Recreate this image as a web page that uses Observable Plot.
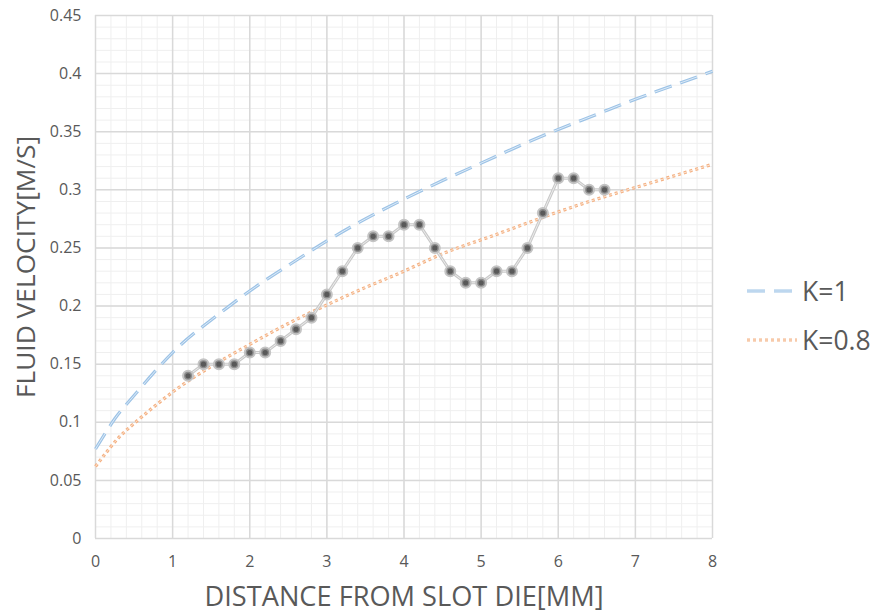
<!DOCTYPE html>
<html>
<head>
<meta charset="utf-8">
<script src="https://cdn.jsdelivr.net/npm/d3@7"></script>
<script src="https://cdn.jsdelivr.net/npm/@observablehq/plot@0.6"></script>
<style>
  html, body { margin: 0; padding: 0; background: #fff; }
  #wrap { position: relative; width: 877px; height: 616px; font-family: "Open Sans", sans-serif; }
  #legend { position: absolute; left: 745px; top: 266px; color: #595959; font-size: 26.5px; }
  .li { display: flex; align-items: center; height: 49px; }
  .li svg { margin-right: 3px; }
</style>
</head>
<body>
<div id="wrap"><div id="legend"></div></div>
<script>
// Measured series (gray markers)
const measX = [1.2,1.4,1.6,1.8,2.0,2.2,2.4,2.6,2.8,3.0,3.2,3.4,3.6,3.8,4.0,4.2,4.4,4.6,4.8,5.0,5.2,5.4,5.6,5.8,6.0,6.2,6.4,6.6];
const measY = [0.14,0.15,0.15,0.15,0.16,0.16,0.17,0.18,0.19,0.21,0.23,0.25,0.26,0.26,0.27,0.27,0.25,0.23,0.22,0.22,0.23,0.23,0.25,0.28,0.31,0.31,0.30,0.30];

// Model curve K=1
const k1X = [0,0.25,0.5,1,1.5,2,2.5,3,3.5,4,4.5,5,5.5,6,6.5,7,7.5,8];
const k1Y = [0.077,0.103,0.123,0.16,0.188,0.213,0.235,0.256,0.275,0.292,0.308,0.323,0.338,0.352,0.365,0.378,0.39,0.402];

// Model curve K=0.8
const k08X = [0,0.25,0.5,1,1.5,2,2.5,3,3.5,4,4.5,5,5.5,6,6.5,7,7.5,8];
const k08Y = [0.062,0.083,0.099,0.126,0.148,0.167,0.185,0.201,0.216,0.23,0.245,0.257,0.269,0.281,0.292,0.302,0.312,0.322];

const xTicks = [0,1,2,3,4,5,6,7,8];
const yTicks = [0,0.05,0.1,0.15,0.2,0.25,0.3,0.35,0.4,0.45];
const seriesNames = ["K=1", "K=0.8"];
const xLabel = "DISTANCE FROM SLOT DIE[MM]";
const yLabel = "FLUID VELOCITY[M/S]";

const meas = measX.map((x, i) => ({x, y: measY[i]}));
const k1 = k1X.map((x, i) => ({x, y: k1Y[i]}));
const k08 = k08X.map((x, i) => ({x, y: k08Y[i]}));

const minorX = d3.range(0, 8.001, 0.2).map(v => +v.toFixed(2));
const minorY = d3.range(0, 0.4501, 0.01).map(v => +v.toFixed(3));

const blue = "#9dc3e6", orange = "#f4b183";
const fmt = d => String(+(+d).toFixed(2));

const plot = Plot.plot({
  width: 877, height: 616,
  marginLeft: 95, marginRight: 165, marginTop: 15, marginBottom: 78,
  style: {fontFamily: "Open Sans, sans-serif", fontSize: "16px", color: "#595959", background: "#fff"},
  x: {domain: [0, 8], label: null},
  y: {domain: [0, 0.45], label: null},
  marks: [
    Plot.ruleX(minorX, {stroke: "#efefef", strokeWidth: 1, strokeOpacity: 1}),
    Plot.ruleY(minorY, {stroke: "#efefef", strokeWidth: 1, strokeOpacity: 1}),
    Plot.ruleX(xTicks, {stroke: "#d9d9d9", strokeWidth: 1.5, strokeOpacity: 1}),
    Plot.ruleY(yTicks, {stroke: "#d9d9d9", strokeWidth: 1.5, strokeOpacity: 1}),
    Plot.axisX({ticks: xTicks, tickFormat: fmt, tickSize: 0, tickPadding: 17, fontSize: 16, fill: "#595959", label: null}),
    Plot.axisY({ticks: yTicks, tickFormat: fmt, tickSize: 0, tickPadding: 14, fontSize: 16, fill: "#595959", label: null}),
    // K=1 compound dashed line
    Plot.line(k1, {x: "x", y: "y", curve: "natural", stroke: blue, strokeWidth: 3.2, strokeDasharray: "18,9", strokeLinecap: "butt"}),
    Plot.line(k1, {x: "x", y: "y", curve: "natural", stroke: "#eef5fc", strokeWidth: 0.8, strokeDasharray: "18,9", strokeLinecap: "butt"}),
    // K=0.8 compound dotted line
    Plot.line(k08, {x: "x", y: "y", curve: "natural", stroke: orange, strokeWidth: 3.2, strokeDasharray: "3,3", strokeLinecap: "butt"}),
    Plot.line(k08, {x: "x", y: "y", curve: "natural", stroke: "#fdf0e6", strokeWidth: 0.8, strokeDasharray: "3,3", strokeLinecap: "butt"}),
    // measured series
    Plot.line(meas, {x: "x", y: "y", stroke: "#c9c9c9", strokeWidth: 3}),
    Plot.line(meas, {x: "x", y: "y", stroke: "#ececec", strokeWidth: 1}),
    Plot.dot(meas, {x: "x", y: "y", r: 5, fill: "#8c8c8c", stroke: "#c4c4c4", strokeWidth: 2}),
    Plot.dot(meas, {x: "x", y: "y", r: 2.6, fill: "#595959", stroke: "none"}),
    Plot.text([xLabel], {frameAnchor: "bottom", textAnchor: "middle", dy: 67, fontSize: 27.2, fill: "#595959", text: d => d}),
    Plot.text([yLabel], {frameAnchor: "left", textAnchor: "middle", dx: -69, dy: -10, rotate: -90, fontSize: 26.3, fill: "#595959", text: d => d})
  ]
});
document.getElementById("wrap").prepend(plot);

const legend = document.getElementById("legend");
legend.innerHTML = `
  <div class="li"><svg width="54" height="10"><line x1="2" y1="5" x2="52" y2="5" stroke="${blue}" stroke-width="3.2" stroke-dasharray="18,9"/><line x1="2" y1="5" x2="52" y2="5" stroke="#eef5fc" stroke-width="0.8" stroke-dasharray="18,9"/></svg><span>${seriesNames[0]}</span></div>
  <div class="li"><svg width="54" height="10"><line x1="2" y1="5" x2="52" y2="5" stroke="${orange}" stroke-width="3.2" stroke-dasharray="3,3"/><line x1="2" y1="5" x2="52" y2="5" stroke="#fdf0e6" stroke-width="0.8" stroke-dasharray="3,3"/></svg><span>${seriesNames[1]}</span></div>`;
</script>
</body>
</html>
